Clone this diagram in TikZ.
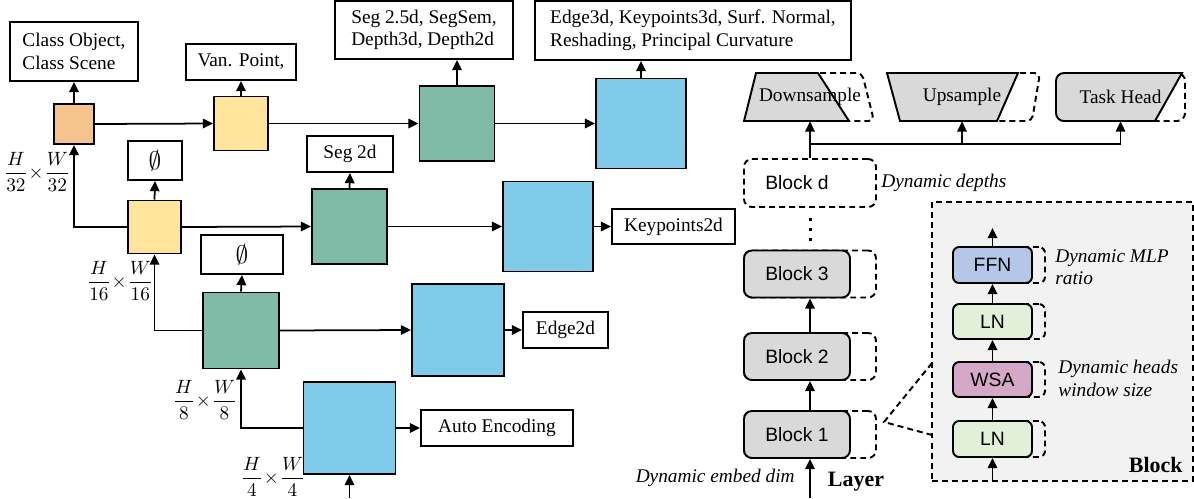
\documentclass[tikz,border=0pt]{standalone}
\usepackage{fontspec}
\usepackage{amsmath,amssymb}
\setmainfont{Liberation Serif}
\setsansfont{Liberation Sans}
\usetikzlibrary{arrows.meta}
\newdimen\pxu \pxu=0.02cm
\definecolor{featorange}{HTML}{F5C38D}
\definecolor{featyellow}{HTML}{FFE59C}
\definecolor{featgreen}{HTML}{80BBA8}
\definecolor{featblue}{HTML}{80CAEA}
\definecolor{blkgray}{HTML}{D9D9D9}
\definecolor{panelgray}{HTML}{F2F2F2}
\definecolor{ffnblue}{HTML}{B4C7E7}
\definecolor{lngreen}{HTML}{E2F0D9}
\definecolor{wsapink}{HTML}{D4A8C6}
\tikzset{
  every node/.style={font=\fontsize{11}{12.8}\selectfont},
  arr/.style={line width=1pt, -{Triangle[length=5.8pt,width=5.4pt]}},
  dsh/.style={line width=1.1pt, dash pattern=on 3.4pt off 2.3pt},
  feat/.style 2 args={draw, line width=1.1pt, fill=#1, inner sep=0pt,
    minimum width=#2\pxu, minimum height=#2\pxu},
  outbox/.style 2 args={draw, line width=1.1pt, inner sep=0pt, align=left,
    minimum width=#1\pxu, minimum height=#2\pxu},
  blk/.style={draw, line width=1.1pt, fill=blkgray, rounded corners=4.5pt,
    minimum width=106\pxu, minimum height=47\pxu,
    font=\sffamily\fontsize{11}{13}\selectfont},
  blkdyn/.style={dsh, draw, rounded corners=4.5pt,
    minimum width=132\pxu, minimum height=47\pxu},
  sub/.style={draw, line width=1.1pt, fill=#1, rounded corners=3.5pt,
    minimum width=79\pxu, minimum height=36\pxu,
    font=\sffamily\fontsize{11}{13}\selectfont},
  subdyn/.style={dsh, draw, rounded corners=3.5pt,
    minimum width=79\pxu, minimum height=36\pxu},
  dyntext/.style={font=\itshape\fontsize{11}{12.8}\selectfont, align=left, inner sep=0pt},
}

\begin{document}
\begin{tikzpicture}[x=0.02cm,y=-0.02cm]
\useasboundingbox (0,0) rectangle (1194,498);

% feature maps
\node[feat={featorange}{40}] (o1) at (74,124) {};
\node[feat={featyellow}{54}] (y1) at (241,123.5) {};
\node[feat={featyellow}{53}] (y2) at (154.5,227) {};
\node[feat={featgreen}{75}] (g1) at (457,123.5) {};
\node[feat={featgreen}{75}] (g2) at (349.5,226.5) {};
\node[feat={featgreen}{76}] (g3) at (241,330.5) {};
\node[feat={featblue}{90}] (b1) at (641,123.5) {};
\node[feat={featblue}{90}] (b2) at (548,226.5) {};
\node[feat={featblue}{92}] (b4) at (458,330) {};
\node[feat={featblue}{92}] (b3) at (349.5,428) {};
\coordinate (img) at (349.5,498);

% task outputs
\node[outbox={128}{59}] (cls) at (74,51.5) {Class Object,\\Class Scene};
\node[outbox={110}{36}] (van) at (241,62) {Van. Point,};
\node[outbox={178}{58}] (seg25) at (424,30) {Seg 2.5d, SegSem,\\Depth3d, Depth2d};
\node[outbox={316}{59}] (edge3) at (693,30.5) {Edge3d, Keypoints3d, Surf. Normal,\\Reshading, Principal Curvature};
\node[outbox={54}{39}] (none1) at (155,160.5) {\fontsize{15}{15}\selectfont$\emptyset$};
\node[outbox={86}{36}] (seg2) at (350,154) {Seg 2d};
\node[outbox={123}{35}] (kp2) at (673.5,226.5) {Keypoints2d};
\node[outbox={82}{39}] (none2) at (242,254.5) {\fontsize{15}{15}\selectfont$\emptyset$};
\node[outbox={85}{36}] (edge2) at (565.5,330) {Edge2d};
\node[outbox={152}{36}] (ae) at (497,428) {Auto Encoding};

% resolutions
\node (f32) at (37,172) {$\dfrac{H}{32}\!\times\!\dfrac{W}{32}$};
\node (f16) at (120,281) {$\dfrac{H}{16}\!\times\!\dfrac{W}{16}$};
\node (f8) at (205,400) {$\dfrac{H}{8}\!\times\!\dfrac{W}{8}$};
\node (f4) at (273,477) {$\dfrac{H}{4}\!\times\!\dfrac{W}{4}$};

\draw[arr] (img) -- (b3.south);
\draw[arr] (b3.west) -| (g3.south);
\draw[arr] (g3.west) -| (y2.south);
\draw[arr] (y2.west) -| (o1.south);
\draw[arr] (o1.north) -- (cls.south);
\draw[arr] (o1.east) -- (y1.west);
\draw[arr] (y1.north) -- (van.south);
\draw[arr] (y1.east) -- (g1.west);
\draw[arr] (g1.north) -- (g1.north |- seg25.south);
\draw[arr] (g1.east) -- (b1.west);
\draw[arr] (b1.north) -- (b1.north |- edge3.south);
\draw[arr] (y2.north) -- (none1.south);
\draw[arr] (y2.east) -- (g2.west);
\draw[arr] (g2.north) -- (seg2.south);
\draw[arr] (g2.east) -- (b2.west);
\draw[arr] (b2.east) -- (kp2.west);
\draw[arr] (g3.north) -- (none2.south);
\draw[arr] (g3.east) -- (b4.west);
\draw[arr] (b4.east) -- (edge2.west);
\draw[arr] (b3.east) -- (ae.west);

% layer
\draw[dsh, rounded corners=3pt] (770,73) -- (862,73) -- (874,121) -- (780,121);
\draw[line width=1.1pt, fill=blkgray] (756,73) -- (818,73) -- (849,121) -- (744,121) -- cycle;
\draw[dsh, rounded corners=3pt] (900,73) -- (1040,73) -- (1032,121) -- (910,121);
\draw[line width=1.1pt, fill=blkgray] (887,73) -- (1018,73) -- (997,121) -- (900,121) -- cycle;
\draw[dsh, rounded corners=4.5pt] (1070,73) rectangle (1185,121);
\draw[line width=1.1pt, fill=blkgray] (1182,73) -- (1155,121) [rounded corners=4.5pt] -- (1056,121) -- (1056,73) [sharp corners] -- cycle;
\node[minimum width=132\pxu, minimum height=48\pxu, inner sep=0pt] (ds) at (810,97) {Downsample};
\node[minimum width=153\pxu, minimum height=48\pxu, inner sep=0pt] (us) at (962,97) {Upsample};
\node[minimum width=129\pxu, minimum height=48\pxu, inner sep=0pt] (th) at (1120.5,97) {Task Head};

\node[blkdyn, minimum height=48\pxu] (blkd) at (810,183) {};
\node[font=\sffamily\fontsize{11}{13}\selectfont] (blkdtxt) at (797,183) {Block d};
\node[dyntext, anchor=west] (dyndep) at (881,183) {Dynamic depths};
\foreach \yy in {219,229,239}
  \fill (808.5,\yy-1.5) rectangle +(3,3);

\node[blkdyn] (blk3) at (810,274) {};
\node[blk] (blk3t) at (797,274) {Block 3};
\node[blkdyn] (blk2) at (810,356.5) {};
\node[blk] (blk2t) at (797,356.5) {Block 2};
\node[blkdyn] (blk1) at (810,434.5) {};
\node[blk] (blk1t) at (797,434.5) {Block 1};
\coordinate (lin) at (810,498);
\coordinate (split) at (810,144);

\draw[arr] (lin) -- (blk1.south);
\draw[arr] (blk1.north) -- (blk2.south);
\draw[arr] (blk2.north) -- (blk3.south);
\draw[arr] (blkd.north) -- (ds.south);
\draw[arr] (split) -| (us.south);
\draw[arr] (split) -| (th.south);

\node[dyntext, anchor=east] (dynemb) at (795,478) {Dynamic embed dim};
\node[font=\bfseries\fontsize{12.5}{14}\selectfont, inner sep=0pt] (layer) at (856,482) {Layer};

% block detail
\node[dsh, draw, fill=panelgray, minimum width=261\pxu, minimum height=279\pxu] (panel) at (1062.5,341.5) {};
\coordinate (zt) at (932,363);
\coordinate (zp) at (884,422);
\coordinate (zb) at (932,435);
\draw[dsh] (zt) -- (zp) -- (zb);

\node[subdyn] (ln1d) at (1005.5,439) {};
\node[sub=lngreen] (ln1) at (992.5,439) {LN};
\node[subdyn, minimum height=35\pxu] (wsad) at (1005.5,379.5) {};
\node[sub=wsapink, minimum height=35\pxu] (wsa) at (992.5,379.5) {WSA};
\node[subdyn, minimum height=35\pxu] (ln2d) at (1005.5,321.5) {};
\node[sub=lngreen, minimum height=35\pxu] (ln2) at (992.5,321.5) {LN};
\node[subdyn] (ffnd) at (1005.5,265) {};
\node[sub=ffnblue] (ffn) at (992.5,265) {FFN};
\coordinate (bout) at (992.5,228);

\draw[arr] (ln1 |- panel.south) -- (ln1.south);
\draw[arr] (ln1.north) -- (wsa.south);
\draw[arr] (wsa.north) -- (ln2.south);
\draw[arr] (ln2.north) -- (ffn.south);
\draw[arr] (ffn.north) -- (bout);

\node[dyntext, anchor=west] (dynmlp) at (1055,267) {Dynamic MLP\\ratio};
\node[dyntext, anchor=west] (dynhead) at (1058,378.5) {Dynamic heads\\window size};
\node[font=\bfseries\fontsize{12.5}{14}\selectfont, inner sep=0pt, anchor=east] (blocktxt) at (1183,465) {Block};
\end{tikzpicture}
\end{document}
